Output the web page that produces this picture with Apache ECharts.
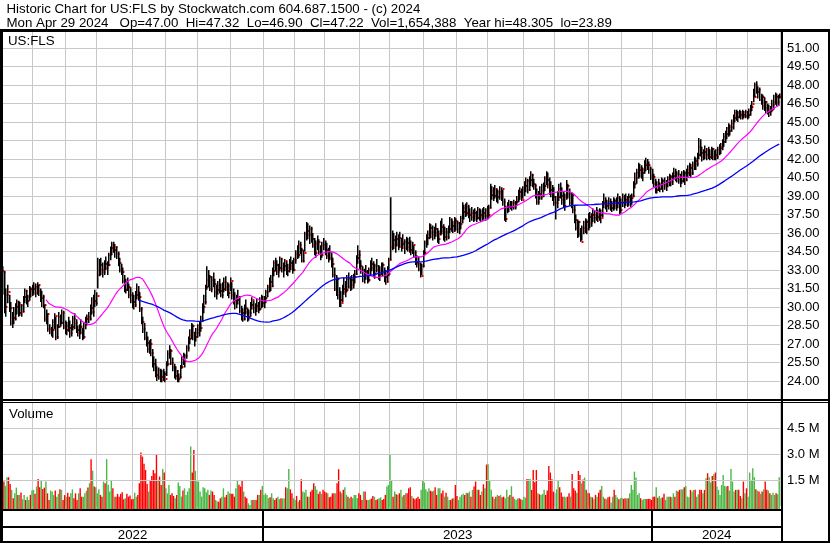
<!DOCTYPE html>
<html><head><meta charset="utf-8">
<script src="https://cdn.jsdelivr.net/npm/echarts@6/dist/echarts.min.js"></script>
<style>html,body{margin:0;padding:0;background:#fff}#c{width:830px;height:543px}</style>
</head><body><div id="c"></div>
<script>
// ---------- calendar (trading days) ----------
const START = '2022-05-02', END = '2024-04-29';
const holidays = ['2022-05-30','2022-06-20','2022-07-04','2022-09-05','2022-11-24','2022-12-26',
  '2023-01-02','2023-01-16','2023-02-20','2023-04-07','2023-05-29','2023-06-19','2023-07-04',
  '2023-09-04','2023-11-23','2023-12-25','2024-01-01','2024-01-15','2024-02-19','2024-03-29'];
const years = ['2022','2023','2024'];

// ---------- price data (one line per month) ----------
const high = [
33.6,33.3,32.9,31.5,31.8,31.0,30.4,29.6,30.0,30.3,30.6,30.5,30.4,30.2,30.9,31.5,31.4,31.0,31.7,31.6,31.8,
32.0,31.9,32.0,31.8,31.5,31.3,31.0,30.2,29.8,29.5,28.6,28.4,29.0,29.5,29.2,28.6,29.6,29.4,29.8,29.7,28.9,
28.8,29.2,28.9,28.6,29.3,29.5,29.0,28.5,28.6,29.0,28.3,28.8,29.2,29.4,29.6,30.2,30.8,31.0,31.4,31.2,
34.0,33.9,34.0,33.6,33.8,34.1,33.7,34.4,34.9,35.3,35.3,35.1,34.9,34.5,34.0,33.5,33.2,32.6,32.3,32.4,31.9,31.6,31.2,
31.0,31.3,31.9,31.7,31.2,30.0,29.2,28.7,28.0,27.6,27.3,27.4,26.6,26.0,25.8,25.2,25.1,25.0,24.9,25.0,24.8,
25.6,26.5,26.9,26.6,25.9,25.4,25.2,24.9,24.6,25.3,26.0,26.3,26.2,26.9,27.6,28.2,28.7,28.6,28.0,28.3,28.6,
28.8,29.3,30.3,31.0,31.8,33.3,33.0,32.6,32.5,32.8,32.3,31.8,32.1,32.3,31.9,32.0,32.4,32.5,32.0,31.9,32.4,
32.0,31.5,31.2,31.0,31.4,30.9,30.1,29.9,30.2,30.6,29.9,29.8,30.4,30.8,30.5,30.3,30.7,30.4,30.8,31.0,30.9,
30.9,31.4,31.8,32.4,32.6,33.2,33.8,34.0,33.8,33.5,34.1,34.0,33.6,33.9,33.7,33.5,33.9,34.1,33.8,34.0,
34.6,35.0,35.4,35.3,34.8,34.6,36.1,36.9,36.8,36.6,36.5,36.0,35.6,35.4,35.8,35.5,35.0,35.3,35.6,
35.4,35.2,34.8,35.0,34.4,34.0,33.2,32.6,32.4,31.6,31.3,31.8,32.4,32.1,32.6,32.8,32.5,32.6,32.7,33.0,34.2,35.0,34.6,
33.8,33.3,33.1,33.4,33.0,33.2,33.8,34.0,33.7,33.5,33.9,33.4,33.3,33.6,33.6,33.2,33.0,33.3,34.0,
38.9,36.2,36.0,35.8,36.1,35.9,36.1,35.6,35.9,35.5,35.7,35.6,35.7,35.4,35.3,35.0,34.6,34.2,34.1,33.6,33.5,34.6,
35.4,35.9,36.2,36.8,36.7,36.6,36.5,36.8,36.4,36.2,37.0,37.2,36.7,36.5,36.4,36.6,37.3,37.2,37.0,37.3,37.2,
37.0,36.9,37.4,38.5,38.3,38.4,38.5,38.3,38.0,38.1,37.9,38.0,37.8,38.1,38.0,37.9,38.0,38.1,38.0,38.2,
38.3,40.0,39.8,39.7,39.9,39.6,39.5,39.8,39.7,39.5,38.8,38.2,38.5,38.7,38.6,38.6,38.7,38.6,39.0,39.5,39.7,39.6,39.8,
40.2,40.5,40.4,40.6,41.0,40.8,40.4,40.0,39.6,39.4,39.8,40.0,40.1,40.6,41.0,40.9,40.5,40.2,39.9,39.7,
39.0,39.4,40.0,40.1,39.7,39.4,39.2,40.3,40.0,39.6,39.3,39.2,38.3,37.5,37.1,37.0,36.4,36.6,37.0,37.2,37.1,37.6,
37.7,37.6,38.0,37.8,38.1,37.9,38.0,37.9,38.6,39.2,38.9,38.7,38.9,38.8,38.6,38.9,38.8,38.9,39.2,39.0,38.8,
39.2,39.1,39.2,39.0,39.2,39.1,39.2,40.2,40.9,41.2,41.7,41.6,41.5,41.3,41.9,42.1,42.0,41.8,41.4,41.2,
40.8,40.4,40.2,40.4,40.1,40.5,40.4,40.5,40.3,40.6,40.8,40.7,40.9,41.3,41.2,41.0,41.1,40.8,41.0,41.1,41.0,
41.2,41.5,41.7,41.6,41.8,42.2,42.1,42.5,43.7,43.6,43.0,42.8,43.1,42.9,43.0,42.8,43.0,42.9,42.7,42.8,
43.0,43.2,43.3,43.6,44.1,44.3,44.6,44.9,44.8,45.2,45.6,46.0,46.0,45.9,46.0,45.9,46.0,45.9,46.0,45.9,
46.1,46.4,46.7,47.7,48.2,48.305,47.9,47.8,47.3,47.2,47.0,46.7,46.5,46.4,46.3,46.8,47.2,47.4,47.3,47.2,47.32
];
const low = [
31.8,31.0,29.5,29.2,30.3,29.6,28.5,28.3,28.6,28.9,29.4,29.2,29.3,29.2,29.6,30.3,30.2,30.0,30.5,30.8,30.9,
31.0,30.8,31.0,30.9,30.4,30.0,29.9,28.8,28.6,28.0,27.8,27.6,27.5,28.2,27.3,27.4,28.3,28.4,28.6,28.2,27.8,
27.7,28.0,27.5,27.6,28.1,28.2,27.9,27.6,27.4,27.8,27.3,27.4,28.2,28.5,28.7,28.9,29.4,29.2,30.0,30.1,
31.5,32.5,32.6,32.4,32.6,33.0,32.6,33.3,33.8,34.2,34.4,34.0,33.9,33.3,32.8,32.6,31.9,31.2,31.1,31.3,30.7,30.3,29.9,
29.8,30.0,30.6,30.5,29.6,28.6,27.9,27.3,26.8,26.3,26.2,26.0,25.1,24.8,24.3,24.0,24.1,23.9,23.89,24.0,23.9,
24.4,25.2,25.8,25.3,24.8,24.2,24.1,23.9,23.9,24.2,25.0,25.3,25.1,25.8,26.4,27.0,27.4,27.3,26.8,27.2,27.5,
27.6,28.0,28.8,29.5,30.2,31.4,31.6,31.3,31.2,31.6,30.8,30.6,31.0,31.1,30.8,30.7,31.2,31.3,30.9,30.7,31.3,
30.6,30.2,29.8,29.9,30.2,29.5,28.9,28.8,28.9,29.4,28.8,28.9,29.2,29.8,29.5,29.3,29.6,29.5,29.7,29.9,30.0,
29.9,30.3,30.8,31.2,31.3,31.6,32.5,32.9,32.6,32.4,32.9,32.8,32.4,32.9,32.6,32.5,32.8,33.0,32.7,32.9,
33.5,33.9,34.0,34.3,33.6,33.6,34.5,35.4,35.5,35.1,35.2,34.8,34.2,34.0,34.6,34.3,33.8,34.0,34.6,
34.2,33.9,33.6,33.8,33.2,32.4,31.3,30.9,30.6,30.0,30.0,30.4,31.0,30.8,31.2,31.5,31.3,31.4,31.5,31.9,32.6,33.5,33.1,
32.7,32.0,31.9,32.2,31.9,32.0,32.6,32.9,32.4,32.3,32.8,32.2,32.1,32.6,32.5,32.0,31.8,32.0,32.5,
33.8,34.6,34.7,34.4,34.9,34.6,34.8,34.5,34.7,34.3,34.6,34.5,34.4,34.2,34.3,34.0,33.4,33.2,32.9,32.4,32.6,33.2,
34.2,34.8,35.0,35.5,35.6,35.4,35.5,35.7,35.2,35.1,35.8,35.9,35.4,35.3,35.4,35.5,36.0,36.1,36.0,36.1,36.2,
36.0,35.9,36.3,36.8,37.1,37.3,37.4,37.2,36.9,37.0,36.9,37.0,36.9,37.1,37.0,36.9,37.0,37.1,37.0,37.1,
37.2,38.0,38.7,38.6,38.8,38.5,38.4,38.7,38.6,38.2,37.0,36.9,37.6,37.7,37.9,37.8,37.9,37.9,38.2,38.5,38.7,38.6,38.8,
39.0,39.3,39.2,39.4,39.8,39.7,39.5,38.8,38.3,38.3,38.7,38.7,38.9,39.4,39.9,39.6,39.1,38.9,38.6,38.2,
37.1,38.0,38.6,38.8,38.3,38.1,37.8,38.7,38.8,38.2,38.0,37.6,36.8,36.2,35.6,35.7,35.3,35.4,35.9,36.0,35.9,36.2,
36.4,36.5,36.9,36.8,37.0,36.9,37.0,36.8,37.3,38.0,37.9,37.7,37.9,37.8,37.7,37.8,37.9,37.8,38.0,37.5,37.6,
38.1,38.0,38.2,38.1,38.2,38.1,38.3,38.9,39.6,40.0,40.4,40.5,40.4,40.2,40.8,41.0,41.1,40.8,40.3,40.0,
39.7,39.2,39.2,39.4,39.3,39.5,39.3,39.5,39.4,39.7,39.8,39.8,39.9,40.3,40.2,40.1,40.0,39.7,40.0,40.1,39.9,
40.2,40.5,40.6,40.5,40.7,41.1,41.1,41.4,42.0,42.2,41.8,41.9,42.0,41.9,42.0,41.9,42.0,41.9,41.9,41.9,
42.0,42.3,42.4,42.7,43.0,43.3,43.6,43.8,43.9,44.2,44.4,45.0,45.1,45.0,45.3,45.2,45.2,45.3,45.3,45.2,
45.3,45.5,45.9,46.6,47.0,47.3,46.9,46.7,46.4,46.0,45.9,45.7,45.6,45.4,45.5,45.8,46.0,46.4,46.3,46.3,46.90
];
const close = [
32.9,32.8,30.0,31.0,31.2,29.9,28.7,29.1,29.0,30.0,30.4,29.5,30.2,29.6,30.8,31.3,30.5,30.8,31.5,31.3,31.5,
31.6,31.1,31.8,31.3,30.7,30.8,30.2,29.0,29.4,28.2,28.0,28.1,28.8,29.3,27.6,28.4,29.2,28.7,29.5,28.4,28.1,
28.5,28.3,27.9,28.4,29.0,28.7,28.1,27.9,28.4,27.9,27.6,28.6,29.0,29.2,29.0,29.9,29.6,30.5,30.3,30.9,
32.6,33.4,33.0,32.8,33.5,33.2,33.4,34.2,34.8,35.0,34.6,34.9,34.3,33.6,33.0,32.8,32.1,31.4,32.0,31.6,31.0,30.5,30.4,
30.2,31.0,31.2,30.8,29.8,28.8,28.2,27.5,27.1,26.6,27.0,26.3,25.4,25.3,24.5,24.3,24.9,24.3,24.1,24.6,24.2,
25.4,26.2,26.4,25.5,25.1,24.4,24.8,24.2,24.35,25.1,25.8,25.6,26.0,26.7,27.4,27.7,28.5,27.9,27.6,27.9,28.1,
28.3,28.9,30.0,30.4,31.6,32.2,32.4,31.5,32.2,31.9,31.2,31.4,31.7,31.3,31.0,31.5,32.0,31.6,31.1,31.7,32.1,
31.0,30.6,30.4,30.6,30.8,29.7,29.5,29.0,29.9,29.6,29.2,29.5,30.2,30.6,29.9,30.1,30.0,29.8,30.5,30.3,30.6,
30.7,31.2,31.6,32.0,31.7,32.9,33.6,33.4,32.8,33.2,33.9,33.1,33.3,33.7,32.9,33.2,33.6,33.3,33.0,33.8,
34.3,34.2,35.0,34.6,33.7,34.4,35.9,36.2,35.8,36.3,35.5,35.0,34.4,35.1,35.3,34.5,34.2,35.0,34.9,
34.6,34.1,34.5,34.0,33.5,32.6,31.5,32.3,31.0,30.6,30.3,31.5,31.2,31.4,32.3,31.6,32.2,31.8,32.4,32.7,34.0,34.2,33.3,
33.0,32.5,32.8,32.6,32.2,33.0,33.5,33.2,32.7,33.3,33.0,32.6,32.9,33.4,32.8,32.4,32.05,32.7,33.8,
34.9,35.4,35.0,35.5,35.0,35.6,34.9,35.1,35.3,34.8,35.2,34.9,34.6,34.5,35.0,34.4,33.6,33.5,33.1,32.5,33.3,34.4,
35.2,35.6,35.8,36.4,36.1,35.8,36.3,36.0,35.5,35.9,36.5,36.2,35.7,36.1,35.7,36.3,37.05,36.6,36.2,37.0,36.8,
36.3,36.7,37.2,37.7,38.0,37.6,38.1,37.5,37.6,37.3,37.6,37.4,37.2,37.9,37.5,37.3,37.6,37.4,37.8,37.5,
38.0,39.1,39.4,39.0,39.6,38.9,39.3,39.2,39.6,38.5,37.1,38.0,38.1,38.3,38.1,38.4,38.1,38.5,38.7,39.35,39.0,38.7,39.5,
39.8,40.2,39.5,40.3,40.7,40.0,39.8,39.1,38.5,39.2,38.9,39.4,39.8,40.45,40.3,39.9,39.5,39.2,38.9,38.4,
38.4,38.9,39.6,39.0,38.7,38.2,38.9,39.8,39.2,38.4,39.1,37.9,37.05,36.4,36.9,35.9,35.3,36.4,36.2,36.9,36.3,37.3,
36.8,37.45,37.2,37.5,37.3,37.6,37.45,37.2,38.4,38.6,38.2,38.5,38.3,38.0,38.3,38.6,38.2,38.4,38.8,37.9,38.4,
38.9,38.7,38.6,38.9,38.7,38.8,39.0,40.0,40.5,40.85,41.1,41.3,40.9,41.1,41.5,41.6,41.5,41.2,40.6,40.55,
40.0,39.5,39.9,39.6,39.9,40.2,40.0,39.8,40.1,40.4,40.55,40.15,40.6,40.85,40.5,40.8,40.3,40.2,40.55,40.9,40.3,
40.9,41.1,41.3,40.9,41.5,41.8,41.6,42.3,43.0,42.5,42.2,42.6,42.3,42.7,42.2,42.4,42.8,42.2,42.3,42.2,
42.7,42.9,43.0,43.4,43.8,44.0,44.5,44.3,44.6,44.9,45.3,45.7,45.4,45.7,45.6,45.5,45.6,45.5,45.8,45.6,
45.9,46.2,46.5,47.05,48.0,47.45,47.6,46.8,47.0,46.3,46.65,46.1,45.8,46.0,45.95,46.4,46.65,47.05,46.6,47.0,47.22
];
// ---------- volume, millions of shares ----------
const volumeM = [
2.95,1.93,1.41,1.16,1.66,1.66,1.27,0.93,0.45,0.73,1.06,0.64,0.64,0.78,
0.39,0.64,0.35,0.54,0.35,0.64,0.89,0.93,0.70,1.12,1.56,1.08,1.45,0.98,
1.06,1.41,0.73,0.35,0.89,0.83,0.64,0.89,0.54,0.70,0.96,0.93,0.35,0.63,
0.54,0.77,0.54,0.73,0.96,0.45,0.73,0.35,0.73,1.02,0.54,0.54,0.73,0.88,
1.06,1.31,2.70,2.04,1.12,1.08,0.73,0.96,0.64,0.54,1.41,1.31,2.70,1.23,
0.83,1.45,1.02,0.54,0.54,0.70,0.54,0.70,0.79,0.39,0.45,0.70,0.54,0.61,
0.39,0.41,0.77,0.54,0.64,1.31,3.08,2.85,2.43,2.08,1.27,0.83,1.50,1.73,
2.08,1.89,2.95,1.50,1.70,1.21,2.14,1.93,1.02,0.73,1.21,0.64,0.73,0.58,
0.45,0.64,1.35,1.16,0.54,0.89,1.02,0.64,0.83,1.02,3.43,1.93,3.23,2.03,
1.41,1.41,0.83,0.54,1.08,1.02,0.79,0.93,0.64,0.89,0.83,0.64,0.35,0.28,
0.25,0.45,0.54,1.02,0.50,0.64,0.83,0.73,0.70,0.70,0.54,1.02,1.45,1.23,
1.12,1.45,0.83,0.54,0.45,0.16,0.06,0.35,0.35,0.35,0.35,0.64,0.64,0.93,
1.16,0.64,0.73,0.64,0.45,0.50,0.73,0.45,0.35,0.45,0.54,0.39,0.45,0.43,
0.45,1.08,1.02,2.14,0.96,0.73,0.45,0.35,0.58,0.25,0.35,1.54,0.83,0.78,
0.93,0.54,0.54,0.83,0.93,1.31,1.16,0.93,0.70,0.83,0.70,0.93,0.83,0.78,
0.73,0.50,0.54,0.73,0.73,0.73,1.31,2.12,0.83,0.73,0.93,1.08,0.64,0.53,
0.45,0.54,0.45,0.64,0.64,0.45,0.73,0.64,0.35,0.83,0.83,0.35,0.35,0.38,0.43,0.58,0.53,
0.35,0.39,0.45,0.50,0.35,0.41,0.64,1.12,1.21,2.95,1.50,0.54,0.83,0.68,
0.64,0.73,0.93,0.54,0.64,0.73,0.73,1.02,
1.08,0.58,0.45,0.39,0.45,0.54,0.41,0.93,1.45,1.35,0.96,0.83,1.02,0.88,
0.83,0.89,1.08,0.64,1.02,1.02,0.73,0.89,0.54,0.77,0.54,0.35,0.35,0.43,
0.45,1.21,0.58,0.35,0.54,0.64,0.70,0.64,0.77,0.73,0.83,0.54,0.93,1.13,
1.41,0.93,0.93,0.64,0.83,1.25,1.02,2.39,2.41,1.50,0.93,0.54,0.41,0.53,
0.64,0.58,0.64,0.50,0.54,0.45,0.93,0.54,0.64,1.14,0.54,0.41,0.35,0.43,
0.45,0.39,0.35,0.54,0.48,1.56,1.56,1.56,0.93,2.08,1.37,2.08,0.73,0.68,
0.64,0.70,0.93,0.64,0.89,2.31,1.93,1.54,0.83,0.73,0.96,1.46,1.08,0.78,
0.54,0.54,0.50,0.54,0.73,0.54,1.85,1.02,0.89,0.77,2.02,1.79,1.31,1.53,
1.64,0.93,0.77,0.73,0.54,0.50,0.39,0.64,0.54,0.77,0.93,1.16,0.54,0.43,
0.39,0.50,0.54,0.20,0.54,0.93,0.64,0.50,0.39,0.45,0.48,0.41,0.45,0.43,
0.45,0.73,1.21,0.93,1.98,1.64,0.64,0.73,0.45,0.35,0.41,0.41,0.41,0.41,
0.41,0.35,0.54,0.54,1.08,0.48,0.58,0.45,0.50,0.70,0.35,0.54,0.54,0.53,
0.50,0.73,0.54,0.89,0.83,0.93,0.96,0.96,1.08,1.16,0.54,0.50,0.93,0.83,
0.93,0.93,0.54,0.68,0.93,0.93,0.73,0.93,1.60,1.89,1.66,1.35,1.73,1.83,
1.93,1.12,0.93,0.64,1.21,1.79,1.16,1.12,1.16,0.89,2.14,1.41,0.83,0.93,
0.93,0.93,0.58,0.45,1.41,0.73,1.02,0.54,1.93,1.46,2.18,1.66,0.96,0.88,
0.83,0.70,0.83,0.96,1.41,0.93,0.89,0.73,0.64,0.77,0.64,0.73,0.68,1.654
];

// ---------- axis ticks / labels ----------
const priceAxis = { min: 22.5, max: 52.5, step: 1.5, firstLabel: 24, lastLabel: 51 };
const volumeTicks = [1.5, 3.0, 4.5];
const volumeMax = 5.94;
const titleLine1 = 'Historic Chart for US:FLS by Stockwatch.com 604.687.1500 - (c) 2024';
const titleLine2 = 'Mon Apr 29 2024   Op=47.00  Hi=47.32  Lo=46.90  Cl=47.22  Vol=1,654,388  Year hi=48.305  lo=23.89';
const symbolLabel = 'US:FLS';
const volumeLabel = 'Volume';
const maFast = 30, maSlow = 90;

// ---------- helpers ----------
function tradingDays() {
  const out = [];
  const d = new Date(START + 'T00:00:00Z'), end = new Date(END + 'T00:00:00Z');
  while (d <= end) {
    const wd = d.getUTCDay(), s = d.toISOString().slice(0, 10);
    if (wd !== 0 && wd !== 6 && !holidays.includes(s)) out.push(s);
    d.setUTCDate(d.getUTCDate() + 1);
  }
  return out;
}
const dates = tradingDays();
const monthStart = (i) => i > 0 && i < dates.length && dates[i].slice(0, 7) !== dates[i - 1].slice(0, 7);
function sma(arr, n) {
  const out = []; let s = 0;
  for (let i = 0; i < arr.length; i++) {
    s += arr[i]; if (i >= n) s -= arr[i - n];
    out.push(i >= n - 1 ? +(s / n).toFixed(3) : null);
  }
  return out;
}
const dir = close.map((c, i) => i === 0 ? -1 : (c > close[i - 1] ? 1 : (c < close[i - 1] ? -1 : 0)));
const volColor = (d) => d > 0 ? '#4cb848' : (d < 0 ? '#ff0000' : '#a8a8a8');

const FONT = '13.3px "Liberation Sans", Arial, sans-serif';
const GRID_COLOR = '#c8c8c8';

const chart = echarts.init(document.getElementById('c'), null, { renderer: 'canvas' });

const xCommon = (gi) => ({
  type: 'category', gridIndex: gi, data: dates, boundaryGap: true,
  axisLine: { show: false }, axisTick: { show: false },
  axisLabel: { show: false, interval: (i) => monthStart(i) },
  splitLine: { show: true, interval: (i) => monthStart(i), lineStyle: { color: GRID_COLOR, width: 1 } }
});

chart.setOption({
  animation: false,
  backgroundColor: '#ffffff',
  grid: [
    { left: 0, right: 50, top: 29.5, bottom: 143.5 },
    { left: 0, right: 50, top: 403, bottom: 37 }
  ],
  xAxis: [xCommon(0), xCommon(1)],
  yAxis: [
    { type: 'value', gridIndex: 0, position: 'right', min: priceAxis.min, max: priceAxis.max, interval: priceAxis.step,
      axisLine: { show: false }, axisTick: { show: false },
      splitLine: { show: true, lineStyle: { color: GRID_COLOR, width: 1 } },
      axisLabel: { margin: 7, color: '#000', fontSize: 13, fontFamily: '"Liberation Sans", Arial, sans-serif',
        formatter: (v) => (v >= priceAxis.firstLabel - 0.01 && v <= priceAxis.lastLabel + 0.01) ? v.toFixed(2) : '' } },
    { type: 'value', gridIndex: 1, position: 'right', min: 0, max: volumeMax, interval: 1.5,
      axisLine: { show: false }, axisTick: { show: false }, splitLine: { show: false },
      axisLabel: { margin: 7, color: '#000', fontSize: 13, fontFamily: '"Liberation Sans", Arial, sans-serif',
        formatter: (v) => volumeTicks.some(t => Math.abs(t - v) < 1e-6) ? v.toFixed(1) + ' M' : '' } }
  ],
  series: [
    { type: 'custom', name: 'OHLC', xAxisIndex: 0, yAxisIndex: 0, z: 2,
      data: close.map((c, i) => [i, high[i], low[i], c]),
      encode: { x: 0, y: [1, 2, 3] },
      renderItem: (p, api) => {
        const i = api.value(0);
        const h = api.coord([i, api.value(1)]);
        const l = api.coord([i, api.value(2)]);
        const c = api.coord([i, api.value(3)]);
        const x = Math.round(h[0]) + 0.75;
        return { type: 'group', children: [
          { type: 'line', shape: { x1: x, y1: h[1], x2: x, y2: l[1] }, style: { stroke: '#000', lineWidth: 1.5 } },
          { type: 'rect', shape: { x: Math.round(h[0]) + 1.5, y: Math.round(c[1]) - 1, width: 2, height: 2 }, style: { fill: '#ff0000' } }
        ]};
      } },
    { type: 'line', name: 'MA' + maFast, xAxisIndex: 0, yAxisIndex: 0, z: 5, data: sma(close, maFast),
      showSymbol: false, symbol: 'none', lineStyle: { color: '#ff00ff', width: 1.2 }, silent: true },
    { type: 'line', name: 'MA' + maSlow, xAxisIndex: 0, yAxisIndex: 0, z: 5, data: sma(close, maSlow),
      showSymbol: false, symbol: 'none', lineStyle: { color: '#0000ff', width: 1.3 }, silent: true },
    { type: 'line', name: 'volGrid', xAxisIndex: 1, yAxisIndex: 1, z: 1, data: [], silent: true,
      markLine: { silent: true, symbol: ['none', 'none'], label: { show: false }, animation: false,
        lineStyle: { color: GRID_COLOR, type: 'solid', width: 1 },
        data: volumeTicks.map(t => ({ yAxis: t })) } },
    { type: 'custom', name: 'Volume', xAxisIndex: 1, yAxisIndex: 1, z: 3,
      data: volumeM.map((v, i) => [i, v, dir[i]]),
      encode: { x: 0, y: 1 },
      renderItem: (p, api) => {
        const i = api.value(0);
        const top = api.coord([i, api.value(1)]);
        const base = api.coord([i, 0]);
        const w = api.size([1, 0])[0] * 0.9;
        return { type: 'rect', shape: { x: top[0] - w / 2, y: top[1], width: w, height: base[1] + 3 - top[1] },
          style: { fill: volColor(api.value(2)) } };
      } }
  ]
});

// ---------- frame, titles, year band ----------
const band = chart.getModel().getComponent('xAxis', 1).axis.getBandWidth();
const yearEdges = [2];
years.slice(1).forEach(y => {
  const idx = dates.findIndex(d => d.startsWith(y));
  yearEdges.push(chart.convertToPixel({ xAxisIndex: 1 }, idx) - band / 2);
});
yearEdges.push(781);

const R = (x, y, w, h) => ({ type: 'rect', z: 100, silent: true, shape: { x, y, width: w, height: h }, style: { fill: '#000' } });
const T = (x, y, text, align) => ({ type: 'text', z: 101, silent: true, x, y,
  style: { text, fill: '#000', font: FONT, textAlign: align || 'left', textVerticalAlign: 'middle', align: align || 'left', verticalAlign: 'middle' } });

const g = [
  { type: 'rect', z: 99, silent: true, shape: { x: 0, y: 0, width: 830, height: 29 }, style: { fill: '#fff' } },
  { type: 'rect', z: 99, silent: true, shape: { x: 0, y: 511, width: 781, height: 30 }, style: { fill: '#fff' } },
  R(0, 29, 830, 3), R(0, 29, 3, 514), R(828, 29, 2, 514), R(781, 32, 2, 510),
  R(0, 399, 830, 2), R(0, 402, 830, 1),
  R(0, 509, 782, 2), R(0, 526, 782, 2), R(0, 541, 830, 2),
  T(6.5, 9.5, titleLine1), T(6.5, 23.5, titleLine2),
  T(8, 41.5, symbolLabel), T(9, 414, volumeLabel)
];
for (let k = 1; k < yearEdges.length - 1; k++) g.push(R(Math.round(yearEdges[k]) - 1, 511, 2, 30));
for (let k = 0; k < years.length; k++) g.push(T((yearEdges[k] + yearEdges[k + 1]) / 2, 535, years[k], 'center'));
chart.setOption({ graphic: g });

setTimeout(() => {
  const n = dates.length;
  if (high.length !== n || low.length !== n || close.length !== n || volumeM.length !== n)
    throw new Error('length mismatch dates=' + n + ' high=' + high.length + ' low=' + low.length + ' close=' + close.length + ' vol=' + volumeM.length);
}, 50);
</script>
</body></html>
